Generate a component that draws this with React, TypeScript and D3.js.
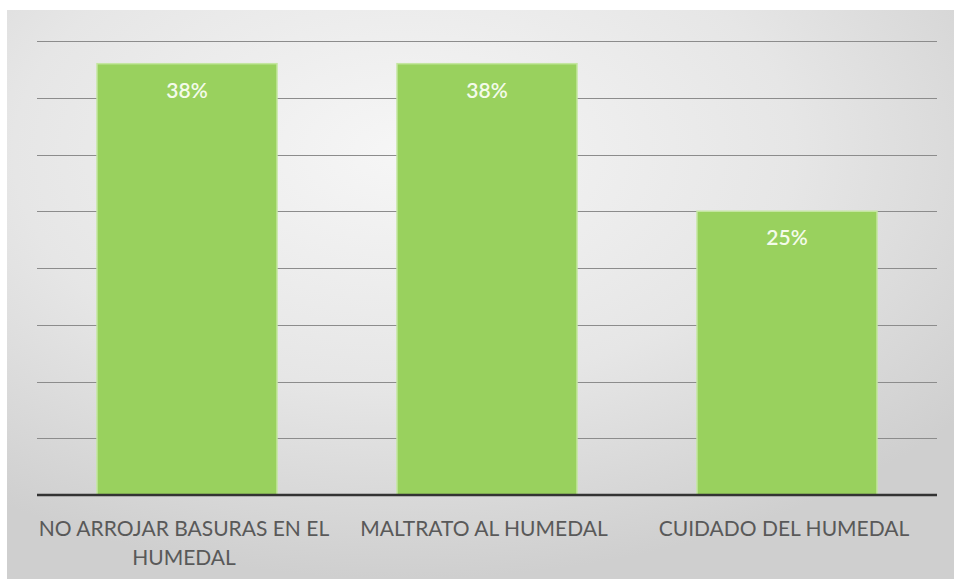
import React from "react";
import * as d3 from "d3";

const categories: string[][] = [
  ["NO ARROJAR BASURAS EN EL", "HUMEDAL"],
  ["MALTRATO AL HUMEDAL"],
  ["CUIDADO DEL HUMEDAL"],
];
const values: number[] = [38, 38, 25];
const valueLabels: string[] = ["38%", "38%", "25%"];
const gridTicks: number[] = [0, 5, 10, 15, 20, 25, 30, 35, 40];

const W = 954;
const H = 581;

export default function App() {
  const frame = { x: 7, y: 10, w: 947, h: 569 };
  const plot = { left: 37, right: 937, top: 41, bottom: 495 };
  const x = d3
    .scaleBand<number>()
    .domain(values.map((_, i) => i))
    .range([plot.left, plot.right])
    .paddingInner(0.4)
    .paddingOuter(0.2);
  const y = d3.scaleLinear().domain([0, 40]).range([plot.bottom, plot.top]);
  const font = "Lato, 'Open Sans', sans-serif";

  return (
    <svg
      width={W}
      height={H}
      style={{ position: "absolute", left: 0, top: 0, background: "#fff" }}
    >
      <defs>
        <radialGradient id="bg" cx="0.42" cy="0.25" r="0.75">
          <stop offset="0" stopColor="#f6f6f6" />
          <stop offset="0.55" stopColor="#e6e6e6" />
          <stop offset="1" stopColor="#cfcfcf" />
        </radialGradient>
      </defs>
      <rect x={frame.x} y={frame.y} width={frame.w} height={frame.h} fill="url(#bg)" />
      {gridTicks
        .filter((t) => t > 0)
        .map((t) => (
          <line
            key={t}
            x1={plot.left}
            x2={plot.right}
            y1={Math.round(y(t)) + 0.5}
            y2={Math.round(y(t)) + 0.5}
            stroke="#8c8c8c"
            strokeWidth={1}
          />
        ))}
      {values.map((v, i) => (
        <g key={i}>
          <rect
            x={x(i)!}
            y={y(v)}
            width={x.bandwidth()}
            height={plot.bottom - y(v)}
            fill="#99d15e"
            stroke="#c4e6a0"
            strokeWidth={1.5}
          />
          <text
            x={x(i)! + x.bandwidth() / 2}
            y={y(v) + 34}
            textAnchor="middle"
            fontFamily={font}
            fontSize={21}
            fontWeight={600}
            fill="#f4fbea"
          >
            {valueLabels[i]}
          </text>
        </g>
      ))}
      <line
        x1={plot.left}
        x2={plot.right}
        y1={plot.bottom}
        y2={plot.bottom}
        stroke="#333"
        strokeWidth={2.5}
      />
      {categories.map((lines, i) => {
        const cx = x(i)! + x.bandwidth() / 2 - 3;
        return (
          <text
            key={i}
            x={cx}
            y={536}
            textAnchor="middle"
            fontFamily={font}
            fontSize={21}
            fill="#595959"
          >
            {lines.map((l, j) => (
              <tspan key={j} x={cx} dy={j === 0 ? 0 : 29}>
                {l}
              </tspan>
            ))}
          </text>
        );
      })}
    </svg>
  );
}
